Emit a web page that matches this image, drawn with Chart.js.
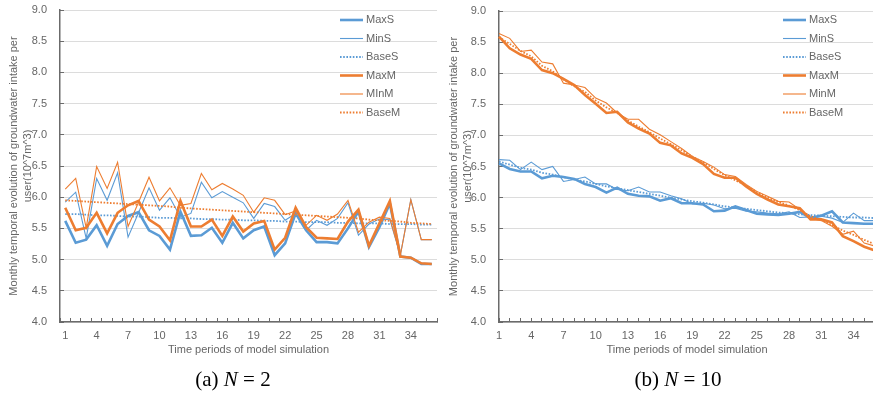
<!DOCTYPE html>
<html>
<head>
<meta charset="utf-8">
<script src="https://cdn.jsdelivr.net/npm/chart.js@4"></script>
<style>
  html, body { margin:0; padding:0; background:#fff; }
  body { width:873px; height:394px; overflow:hidden; position:relative; }
  .wrap { position:absolute; top:0; height:394px; }
  .cap { position:absolute; text-align:center; font-family:"Liberation Serif","Times New Roman",serif; font-size:21px; line-height:22px; color:#000; white-space:nowrap; }
</style>
</head>
<body>
<div class="wrap" style="left:0;width:440px;"><canvas id="c1" width="440" height="394"></canvas></div>
<div class="wrap" style="left:440px;width:440px;"><canvas id="c2" width="440" height="394"></canvas></div>
<div class="cap" style="left:0;width:466px;top:368px;">(a) <i>N</i> = 2</div>
<div class="cap" style="left:440px;width:476px;top:368px;">(b) <i>N</i> = 10</div>
<script>
// ---- data ----
const periods = ['1','2','3','4','5','6','7','8','9','10','11','12','13','14','15','16','17','18','19','20','21','22','23','24','25','26','27','28','29','30','31','32','33','34','35','36'];
const yTicks = [4.0, 4.5, 5.0, 5.5, 6.0, 6.5, 7.0, 7.5, 8.0, 8.5, 9.0];

const namesA = ['MaxS','MinS','BaseS','MaxM','MInM','BaseM'];
const namesB = ['MaxS','MinS','BaseS','MaxM','MinM','BaseM'];

// (a) N = 2
const maxS_a = [5.62,5.27,5.32,5.55,5.22,5.57,5.70,5.76,5.47,5.38,5.16,5.77,5.38,5.39,5.51,5.27,5.59,5.34,5.47,5.53,5.07,5.26,5.74,5.47,5.28,5.28,5.26,5.50,5.77,5.20,5.52,5.90,5.05,5.03,4.93,4.93];
const minS_a = [5.92,6.08,5.34,6.30,5.95,6.39,5.36,5.75,6.15,5.79,5.99,5.68,5.74,6.24,5.99,6.09,6.00,5.91,5.66,5.90,5.85,5.63,5.74,5.47,5.63,5.55,5.66,5.91,5.39,5.57,5.65,5.64,5.07,5.96,5.32,5.32];
const baseS_a = [5.73,5.73,5.72,5.71,5.71,5.70,5.69,5.69,5.68,5.67,5.67,5.66,5.66,5.65,5.65,5.64,5.64,5.63,5.63,5.62,5.62,5.61,5.61,5.60,5.60,5.60,5.59,5.59,5.58,5.58,5.58,5.57,5.57,5.57,5.56,5.56];
const maxM_a = [5.83,5.47,5.51,5.75,5.42,5.75,5.87,5.94,5.64,5.53,5.31,5.94,5.53,5.53,5.64,5.38,5.69,5.45,5.58,5.62,5.16,5.35,5.83,5.52,5.35,5.34,5.33,5.61,5.80,5.22,5.58,5.94,5.05,5.03,4.94,4.93];
const minM_a = [6.13,6.30,5.51,6.49,6.14,6.56,5.53,5.92,6.32,5.94,6.15,5.87,5.90,6.38,6.12,6.22,6.13,6.03,5.76,5.99,5.95,5.72,5.78,5.55,5.71,5.63,5.73,5.95,5.44,5.60,5.68,5.66,5.07,5.96,5.32,5.32];
const baseM_a = [5.95,5.94,5.93,5.92,5.91,5.90,5.89,5.88,5.87,5.86,5.85,5.83,5.82,5.81,5.80,5.79,5.78,5.77,5.76,5.75,5.74,5.73,5.72,5.71,5.70,5.69,5.68,5.67,5.66,5.64,5.63,5.62,5.61,5.59,5.58,5.57];

// (b) N = 10
const maxS_b = [6.55,6.46,6.42,6.42,6.31,6.35,6.33,6.30,6.22,6.17,6.08,6.16,6.06,6.03,6.02,5.95,5.99,5.91,5.91,5.89,5.78,5.79,5.86,5.80,5.74,5.73,5.72,5.74,5.77,5.67,5.71,5.78,5.60,5.59,5.58,5.58];
const minS_b = [6.61,6.60,6.45,6.57,6.45,6.50,6.26,6.29,6.33,6.22,6.22,6.13,6.11,6.17,6.09,6.09,6.03,5.98,5.90,5.91,5.88,5.82,5.83,5.78,5.77,5.75,5.74,5.77,5.68,5.69,5.70,5.67,5.60,5.75,5.63,5.63];
const baseS_b = [6.58,6.53,6.48,6.45,6.40,6.37,6.33,6.29,6.26,6.22,6.18,6.15,6.12,6.09,6.06,6.03,6.00,5.97,5.94,5.92,5.89,5.86,5.84,5.82,5.80,5.78,5.76,5.75,5.73,5.72,5.71,5.70,5.69,5.68,5.68,5.67];
const maxM_b = [8.59,8.40,8.30,8.23,8.05,8.00,7.91,7.81,7.65,7.51,7.36,7.38,7.21,7.11,7.03,6.88,6.84,6.71,6.64,6.54,6.38,6.32,6.32,6.18,6.06,5.97,5.89,5.86,5.83,5.65,5.65,5.60,5.38,5.30,5.21,5.15];
const minM_b = [8.64,8.56,8.35,8.37,8.18,8.15,7.84,7.81,7.77,7.60,7.52,7.36,7.26,7.26,7.10,7.01,6.90,6.79,6.66,6.58,6.49,6.37,6.34,6.21,6.10,6.02,5.94,5.93,5.81,5.67,5.63,5.54,5.41,5.46,5.27,5.22];
const baseM_b = [8.58,8.47,8.36,8.27,8.12,8.03,7.90,7.79,7.70,7.56,7.45,7.36,7.24,7.14,7.05,6.95,6.86,6.76,6.66,6.57,6.46,6.36,6.28,6.19,6.09,6.00,5.93,5.87,5.80,5.70,5.64,5.56,5.47,5.40,5.32,5.25];

// ---- styles ----
const BLUE = '#5B9BD5', ORANGE = '#ED7D31';
const FAMILY = '"Liberation Sans", Arial, sans-serif';
const TXT = '#666666', AXIS = '#6b6b6b';
Chart.defaults.font.family = FAMILY;

const styles = [
  {c: BLUE, w: 2.6, d: []},
  {c: BLUE, w: 1.1, d: []},
  {c: BLUE, w: 1.8, d: [1.6, 1.6]},
  {c: ORANGE, w: 2.6, d: []},
  {c: ORANGE, w: 1.1, d: []},
  {c: ORANGE, w: 1.8, d: [1.6, 1.6]}
];

const inlineLegend = {
  id: 'inlineLegend',
  afterDatasetsDraw(chart, args, opts) {
    const ctx = chart.ctx;
    ctx.save();
    chart.data.datasets.forEach((ds, i) => {
      const y = opts.y + i * opts.dy;
      ctx.beginPath();
      ctx.strokeStyle = ds.borderColor;
      ctx.lineWidth = ds.borderWidth;
      ctx.setLineDash(ds.borderDash || []);
      ctx.moveTo(opts.x, y);
      ctx.lineTo(opts.x + opts.len, y);
      ctx.stroke();
      ctx.setLineDash([]);
      ctx.fillStyle = TXT;
      ctx.font = '11px ' + FAMILY;
      ctx.textBaseline = 'middle';
      ctx.textAlign = 'left';
      ctx.fillText(ds.label, opts.x + opts.len + 3, y);
    });
    ctx.restore();
  }
};

function build(id, names, series, offset, pad, legendPos) {
  const datasets = series.map((arr, i) => ({
    label: names[i],
    data: arr,
    borderColor: styles[i].c,
    backgroundColor: styles[i].c,
    borderWidth: styles[i].w,
    borderDash: styles[i].d,
    pointRadius: 0,
    pointHoverRadius: 0,
    tension: 0,
    fill: false,
    order: 6 - i
  }));
  return new Chart(document.getElementById(id), {
    type: 'line',
    data: { labels: periods, datasets },
    options: {
      responsive: false,
      animation: false,
      devicePixelRatio: 1,
      events: [],
      layout: { padding: { left: pad.left, right: pad.right, top: pad.top, bottom: pad.bottom } },
      plugins: {
        legend: { display: false },
        tooltip: { enabled: false },
        inlineLegend: legendPos
      },
      scales: {
        x: {
          type: 'category',
          offset: offset,
          grid: { display: true, drawOnChartArea: false, drawTicks: true, tickLength: -4, tickColor: AXIS, offset: offset, tickWidth: 1 },
          border: { display: true, color: AXIS, width: 1.5 },
          ticks: {
            autoSkip: false, maxRotation: 0, minRotation: 0, padding: 11,
            color: TXT, font: { size: 11 },
            callback: (v, i) => (i % 3 === 0 ? periods[i] : '')
          },
          title: {
            display: true, text: 'Time periods of model simulation', color: TXT,
            font: { size: 11, lineHeight: 14 / 11 }, padding: { top: 0, bottom: 1 }
          },
          afterFit: s => { s.height = 36; s.paddingLeft = 0; s.paddingRight = 0; }
        },
        y: {
          min: yTicks[0], max: yTicks[yTicks.length - 1],
          afterBuildTicks: s => { s.ticks = yTicks.map(v => ({ value: v })); },
          grid: { color: '#dcdcdc', lineWidth: 1, tickColor: AXIS, tickLength: -4, tickWidth: 1 },
          border: { display: true, color: AXIS, width: 1.5 },
          ticks: { padding: 17, color: TXT, font: { size: 11 }, callback: v => Number(v).toFixed(1) },
          title: {
            display: true,
            text: ['Monthly temporal evolution of groundwater intake per', 'user(10^7m^3)'],
            color: TXT, font: { size: 11, lineHeight: 14 / 11 }, padding: { top: 7, bottom: 0 }
          },
          afterFit: s => { s.width = pad.yw; s.paddingTop = 0; s.paddingBottom = 0; }
        }
      }
    },
    plugins: [inlineLegend]
  });
}

build('c1', namesA, [maxS_a, minS_a, baseS_a, maxM_a, minM_a, baseM_a], true,
  { left: 0, right: 3, top: 10, bottom: 36, yw: 60 },
  { x: 340, y: 20, dy: 18.5, len: 23 });
build('c2', namesB, [maxS_b, minS_b, baseS_b, maxM_b, minM_b, baseM_b], false,
  { left: 0, right: 5, top: 11, bottom: 36, yw: 59 },
  { x: 343, y: 20, dy: 18.5, len: 23 });
</script>
</body>
</html>
